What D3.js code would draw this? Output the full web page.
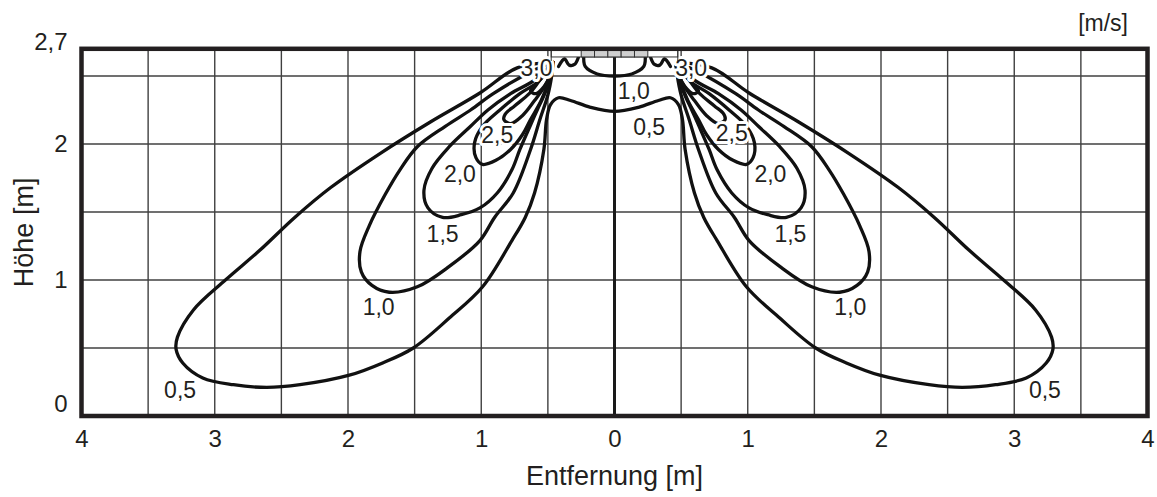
<!DOCTYPE html>
<html>
<head>
<meta charset="utf-8">
<script src="https://cdn.jsdelivr.net/npm/d3@7"></script>
<style>
  body { margin: 0; background: #fff; }
  svg text { font-family: "Liberation Sans", Arial, sans-serif; fill: #231f20; }
</style>
</head>
<body>
<svg id="chart" width="1157" height="497"></svg>
<script>
// axes
const xTicks = [-4, -3, -2, -1, 0, 1, 2, 3, 4];
const xTickLabels = ['4', '3', '2', '1', '0', '1', '2', '3', '4'];
const yTicks = [0, 1, 2, 2.7];
const yTickLabels = ['0', '1', '2', '2,7'];
const xGrid = [-3.5, -3, -2.5, -2, -1.5, -1, -0.5, 0.5, 1, 1.5, 2, 2.5, 3, 3.5];
const yGrid = [0.5, 1, 1.5, 2, 2.5];

// isolines of air speed [m/s], points as [distance m, height m]
const iso05 = [
  [-0.46, 2.60], [-0.73, 2.56], [-1.01, 2.375], [-1.385, 2.16], [-1.76, 1.93], [-2.13, 1.68],
  [-2.40, 1.46], [-2.66, 1.22], [-2.92, 1.00], [-3.16, 0.78],
  [-3.28, 0.58], [-3.29, 0.49], [-3.24, 0.39], [-3.09, 0.28], [-2.86, 0.23], [-2.61, 0.21],
  [-2.36, 0.23], [-1.99, 0.30], [-1.74, 0.39], [-1.51, 0.50], [-1.24, 0.72], [-0.99, 0.95],
  [-0.77, 1.29], [-0.67, 1.46], [-0.60, 1.64], [-0.53, 1.96], [-0.51, 2.18], [-0.48, 2.29],
  [-0.42, 2.34], [-0.33, 2.32], [-0.18, 2.27], [0, 2.24],
  [0.18, 2.27], [0.33, 2.32], [0.42, 2.34], [0.48, 2.29], [0.51, 2.18], [0.53, 1.96],
  [0.60, 1.64], [0.67, 1.46], [0.77, 1.29], [0.99, 0.95], [1.24, 0.72], [1.51, 0.50],
  [1.74, 0.39], [1.99, 0.30], [2.36, 0.23], [2.61, 0.21], [2.86, 0.23], [3.09, 0.28],
  [3.24, 0.39], [3.29, 0.49], [3.28, 0.58], [3.16, 0.78], [2.92, 1.00], [2.66, 1.22],
  [2.40, 1.46], [2.13, 1.68], [1.76, 1.93], [1.385, 2.16], [1.01, 2.375],
  [0.73, 2.56], [0.46, 2.60]
];
const iso10Left = [
  [-0.46, 2.60], [-0.63, 2.53], [-0.91, 2.37], [-1.08, 2.25], [-1.27, 2.13], [-1.48, 1.98],
  [-1.61, 1.81], [-1.72, 1.63], [-1.84, 1.40], [-1.91, 1.21], [-1.90, 1.06], [-1.82, 0.96],
  [-1.69, 0.91], [-1.48, 0.95], [-1.24, 1.10], [-1.01, 1.29], [-0.90, 1.46], [-0.76, 1.64],
  [-0.63, 1.96], [-0.56, 2.18], [-0.50, 2.36], [-0.47, 2.51], [-0.46, 2.60]
];
const iso10Right = [
  [0.46, 2.60], [0.63, 2.53], [0.91, 2.37], [1.08, 2.25], [1.27, 2.13], [1.48, 1.98],
  [1.61, 1.81], [1.72, 1.63], [1.84, 1.40], [1.91, 1.21], [1.90, 1.06], [1.82, 0.96],
  [1.69, 0.91], [1.48, 0.95], [1.24, 1.10], [1.01, 1.29], [0.90, 1.46], [0.76, 1.64],
  [0.63, 1.96], [0.56, 2.18], [0.50, 2.36], [0.47, 2.51], [0.46, 2.60]
];
const iso10Centre = [
  [-0.23, 2.66], [-0.22, 2.57], [-0.13, 2.515], [0, 2.50], [0.13, 2.515], [0.22, 2.57], [0.23, 2.66]
];
const iso15Left = [
  [-0.46, 2.60], [-0.60, 2.47], [-0.78, 2.37], [-0.95, 2.25], [-1.08, 2.13], [-1.24, 1.98],
  [-1.37, 1.82], [-1.43, 1.66], [-1.40, 1.53], [-1.29, 1.46], [-1.15, 1.48], [-1.01, 1.53],
  [-0.88, 1.64], [-0.77, 1.81], [-0.71, 1.96], [-0.63, 2.14], [-0.58, 2.25], [-0.52, 2.38],
  [-0.48, 2.51], [-0.46, 2.60]
];
const iso15Right = [
  [0.46, 2.60], [0.60, 2.47], [0.78, 2.37], [0.95, 2.25], [1.08, 2.13], [1.24, 1.98],
  [1.37, 1.82], [1.43, 1.66], [1.40, 1.53], [1.29, 1.46], [1.15, 1.48], [1.01, 1.53],
  [0.88, 1.64], [0.77, 1.81], [0.71, 1.96], [0.63, 2.14], [0.58, 2.25], [0.52, 2.38],
  [0.48, 2.51], [0.46, 2.60]
];
const iso20Left = [
  [-0.46, 2.60], [-0.57, 2.46], [-0.71, 2.37], [-0.86, 2.25], [-0.99, 2.13], [-1.05, 2.01],
  [-1.04, 1.90], [-0.99, 1.85], [-0.89, 1.88], [-0.78, 1.96], [-0.69, 2.07], [-0.63, 2.18],
  [-0.55, 2.32], [-0.49, 2.47], [-0.46, 2.60]
];
const iso20Right = [
  [0.46, 2.60], [0.57, 2.46], [0.71, 2.37], [0.86, 2.25], [0.99, 2.13], [1.05, 2.01],
  [1.04, 1.90], [0.99, 1.85], [0.89, 1.88], [0.78, 1.96], [0.69, 2.07], [0.63, 2.18],
  [0.55, 2.32], [0.49, 2.47], [0.46, 2.60]
];
const iso25Left = [
  [-0.46, 2.60], [-0.56, 2.47], [-0.64, 2.37], [-0.75, 2.28], [-0.82, 2.22], [-0.83, 2.18],
  [-0.78, 2.15], [-0.69, 2.21], [-0.60, 2.32], [-0.52, 2.43], [-0.47, 2.54], [-0.46, 2.60]
];
const iso25Right = [
  [0.46, 2.60], [0.56, 2.47], [0.64, 2.37], [0.75, 2.28], [0.82, 2.22], [0.83, 2.18],
  [0.78, 2.15], [0.69, 2.21], [0.60, 2.32], [0.52, 2.43], [0.47, 2.54], [0.46, 2.60]
];
const iso30Left = [
  [-0.46, 2.60], [-0.52, 2.53], [-0.59, 2.44], [-0.63, 2.39], [-0.59, 2.37], [-0.53, 2.42],
  [-0.48, 2.51], [-0.46, 2.60]
];
const iso30Right = [
  [0.46, 2.60], [0.52, 2.53], [0.59, 2.44], [0.63, 2.39], [0.59, 2.37], [0.53, 2.42],
  [0.48, 2.51], [0.46, 2.60]
];
const hookLeft = [[-0.42, 2.57], [-0.375, 2.625], [-0.34, 2.58], [-0.30, 2.585], [-0.27, 2.64]];
const hookRight = [[0.42, 2.57], [0.375, 2.625], [0.34, 2.58], [0.30, 2.585], [0.27, 2.64]];

// contour labels: [distance, height, text]
const isoLabels = [
  [-0.585, 2.56, '3,0'], [-0.88, 2.07, '2,5'], [-1.16, 1.78, '2,0'], [-1.29, 1.34, '1,5'],
  [-1.77, 0.80, '1,0'], [-3.26, 0.19, '0,5'],
  [0.145, 2.39, '1,0'], [0.26, 2.13, '0,5'],
  [0.575, 2.56, '3,0'], [0.88, 2.08, '2,5'], [1.17, 1.78, '2,0'], [1.32, 1.34, '1,5'],
  [1.77, 0.80, '1,0'], [3.23, 0.19, '0,5']
];

// diffuser at the ceiling
const deviceEnds = [-0.475, 0.475];
const deviceCellEdges = [-0.25, -0.15, -0.05, 0.05, 0.15, 0.25];
const deviceHeights = [2.64, 2.7];

const svg = d3.select('#chart');
const x = d3.scaleLinear().domain([-4, 4]).range([81.5, 1147.5]);
const y = d3.scaleLinear().domain([0, 2.7]).range([416, 48.8]);

svg.append('defs').append('clipPath').attr('id', 'plotclip')
  .append('rect')
  .attr('x', x(-4)).attr('y', y(2.7))
  .attr('width', x(4) - x(-4)).attr('height', y(0) - y(2.7));

// grid
svg.append('g').selectAll('line').data(xGrid).enter().append('line')
  .attr('x1', d => x(d)).attr('x2', d => x(d))
  .attr('y1', y(0)).attr('y2', y(2.7))
  .attr('stroke', '#404040').attr('stroke-width', 1.4);
svg.append('g').selectAll('line').data(yGrid).enter().append('line')
  .attr('x1', x(-4)).attr('x2', x(4))
  .attr('y1', d => y(d)).attr('y2', d => y(d))
  .attr('stroke', '#404040').attr('stroke-width', 1.4);

// centre line
svg.append('line')
  .attr('x1', x(0)).attr('x2', x(0))
  .attr('y1', y(0)).attr('y2', y(2.7))
  .attr('stroke', '#1a1a1a').attr('stroke-width', 3);

// isolines
const line = d3.line()
  .x(d => x(d[0]))
  .y(d => y(d[1]))
  .curve(d3.curveCatmullRom.alpha(0.5));

const isolines = [iso05, iso10Left, iso10Right, iso10Centre, iso15Left, iso15Right,
  iso20Left, iso20Right, iso25Left, iso25Right, iso30Left, iso30Right, hookLeft, hookRight];

svg.append('g')
  .attr('clip-path', 'url(#plotclip)')
  .selectAll('path').data(isolines).enter().append('path')
  .attr('d', line)
  .attr('fill', 'none')
  .attr('stroke', '#111')
  .attr('stroke-width', 3.3)
  .attr('stroke-linejoin', 'round')
  .attr('stroke-linecap', 'round');

// labels with white halo
svg.append('g').selectAll('text').data(isoLabels).enter().append('text')
  .attr('x', d => x(d[0]))
  .attr('y', d => y(d[1]))
  .attr('dy', '0.36em')
  .attr('text-anchor', 'middle')
  .style('font-size', '23px')
  .style('stroke', '#fff')
  .style('stroke-width', 6)
  .style('stroke-linejoin', 'round')
  .style('paint-order', 'stroke')
  .text(d => d[2]);

// diffuser
const dev = svg.append('g');
dev.append('rect')
  .attr('x', x(deviceEnds[0])).attr('y', y(deviceHeights[1]))
  .attr('width', x(deviceEnds[1]) - x(deviceEnds[0]))
  .attr('height', y(deviceHeights[0]) - y(deviceHeights[1]))
  .attr('fill', '#fff').attr('stroke', '#333').attr('stroke-width', 1);
dev.selectAll('rect.cell').data(d3.pairs(deviceCellEdges)).enter().append('rect')
  .attr('class', 'cell')
  .attr('x', d => x(d[0])).attr('y', y(deviceHeights[1]))
  .attr('width', d => x(d[1]) - x(d[0]))
  .attr('height', y(deviceHeights[0]) - y(deviceHeights[1]))
  .attr('fill', '#cfcfcf').attr('stroke', '#333').attr('stroke-width', 1);
dev.selectAll('line').data(deviceEnds).enter().append('line')
  .attr('x1', d => x(d)).attr('x2', d => x(d))
  .attr('y1', y(deviceHeights[1])).attr('y2', y(deviceHeights[0]) + 4)
  .attr('stroke', '#333').attr('stroke-width', 1);

// frame
svg.append('rect')
  .attr('x', x(-4)).attr('y', y(2.7))
  .attr('width', x(4) - x(-4)).attr('height', y(0) - y(2.7))
  .attr('fill', 'none').attr('stroke', '#231f20').attr('stroke-width', 4.5);

// axes
const xAxis = svg.append('g')
  .attr('transform', `translate(0,${y(0)})`)
  .call(d3.axisBottom(x).tickValues(xTicks).tickSize(0).tickPadding(14)
    .tickFormat((d, i) => xTickLabels[i]));
xAxis.select('.domain').remove();
xAxis.selectAll('text').style('font-size', '24px').attr('fill', '#231f20')
  .style('font-family', '"Liberation Sans", Arial, sans-serif');

const yLabelShift = {0: -12, 2.7: -7};
const yAxis = svg.append('g')
  .attr('transform', `translate(${x(-4)},0)`)
  .call(d3.axisLeft(y).tickValues(yTicks).tickSize(0).tickPadding(14)
    .tickFormat((d, i) => yTickLabels[i]));
yAxis.select('.domain').remove();
yAxis.selectAll('text').style('font-size', '24px').attr('fill', '#231f20')
  .style('font-family', '"Liberation Sans", Arial, sans-serif')
  .attr('y', d => yLabelShift[d] || 0);

// titles
svg.append('text')
  .attr('x', x(0)).attr('y', 485)
  .attr('text-anchor', 'middle')
  .style('font-size', '27px')
  .text('Entfernung [m]');
svg.append('text')
  .attr('transform', `translate(33,${y(1.35)}) rotate(-90)`)
  .attr('text-anchor', 'middle')
  .style('font-size', '27px')
  .text('Höhe [m]');
svg.append('text')
  .attr('x', 1128).attr('y', 31)
  .attr('text-anchor', 'end')
  .style('font-size', '23px')
  .text('[m/s]');
</script>
</body>
</html>
